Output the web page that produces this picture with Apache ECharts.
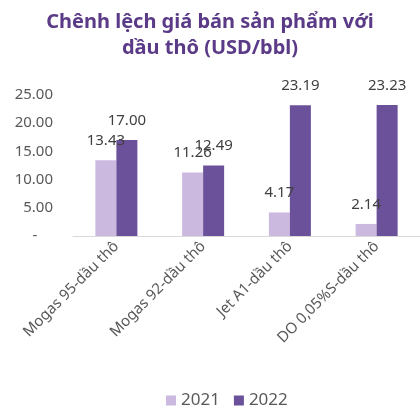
<!DOCTYPE html>
<html>
<head>
<meta charset="utf-8">
<script src="https://cdn.jsdelivr.net/npm/echarts@6/dist/echarts.min.js"></script>
<style>
  html, body { margin: 0; padding: 0; background: #fff; }
  #chart { width: 420px; height: 408px; }
</style>
</head>
<body>
<div id="chart"></div>
<script>
const categories = ['Mogas 95-dầu thô', 'Mogas 92-dầu thô', 'Jet A1-dầu thô', 'DO 0,05%S-dầu thô'];
const values2021 = [13.43, 11.26, 4.17, 2.14];
const values2022 = [17.00, 12.49, 23.19, 23.23];
const seriesNames = ['2021', '2022'];
const yTicks = [0, 5, 10, 15, 20, 25];

const FONT = 'Noto Sans';
const chart = echarts.init(document.getElementById('chart'));

const labelStyle = {
    show: true,
    position: 'top',
    distance: 12,
    fontSize: 15,
    color: '#404040',
    fontFamily: FONT,
    formatter: (p) => p.value.toFixed(2)
};

const options = {
    title: {
        text: 'Chênh lệch giá bán sản phẩm với\ndầu thô (USD/bbl)',
        left: 'center',
        top: 4,
        padding: [5, 0, 5, 22], // nudges the centred title a bit to the right
        textStyle: {
            fontSize: 20,
            fontWeight: 'bold',
            color: '#5B3B87',
            fontFamily: FONT,
            lineHeight: 26
        }
    },
    legend: {
        data: seriesNames,
        bottom: -6,
        left: 161,
        itemWidth: 10,
        itemHeight: 10,
        itemGap: 14,
        icon: 'rect',
        textStyle: { fontSize: 17, color: '#595959', fontFamily: FONT }
    },
    grid: {
        left: 73,
        right: 0,
        top: 95,
        bottom: 172,
        containLabel: false
    },
    xAxis: {
        type: 'category',
        data: categories,
        axisLine: { lineStyle: { color: '#D9D9D9', width: 1 } },
        axisTick: { show: false },
        axisLabel: {
            rotate: 45,
            interval: 0,
            fontSize: 15,
            color: '#595959',
            fontFamily: FONT,
            margin: 8
        }
    },
    yAxis: {
        type: 'value',
        min: yTicks[0],
        max: yTicks[yTicks.length - 1],
        interval: 5,
        splitLine: { show: false },
        axisLine: { show: false },
        axisTick: { show: false },
        axisLabel: {
            fontSize: 15,
            color: '#595959',
            fontFamily: FONT,
            margin: 20,
            formatter: (v) => (v === 0 ? '-    ' : v.toFixed(2))
        }
    },
    series: [
        {
            name: seriesNames[0],
            type: 'bar',
            barWidth: 21,
            barGap: '0%',
            data: values2021,
            itemStyle: { color: '#CBB9E0' },
            label: labelStyle
        },
        {
            name: seriesNames[1],
            type: 'bar',
            barWidth: 21,
            barGap: '0%',
            data: values2022,
            itemStyle: { color: '#6B5199' },
            label: labelStyle
        }
    ]
};

chart.setOption(options);
</script>
</body>
</html>
